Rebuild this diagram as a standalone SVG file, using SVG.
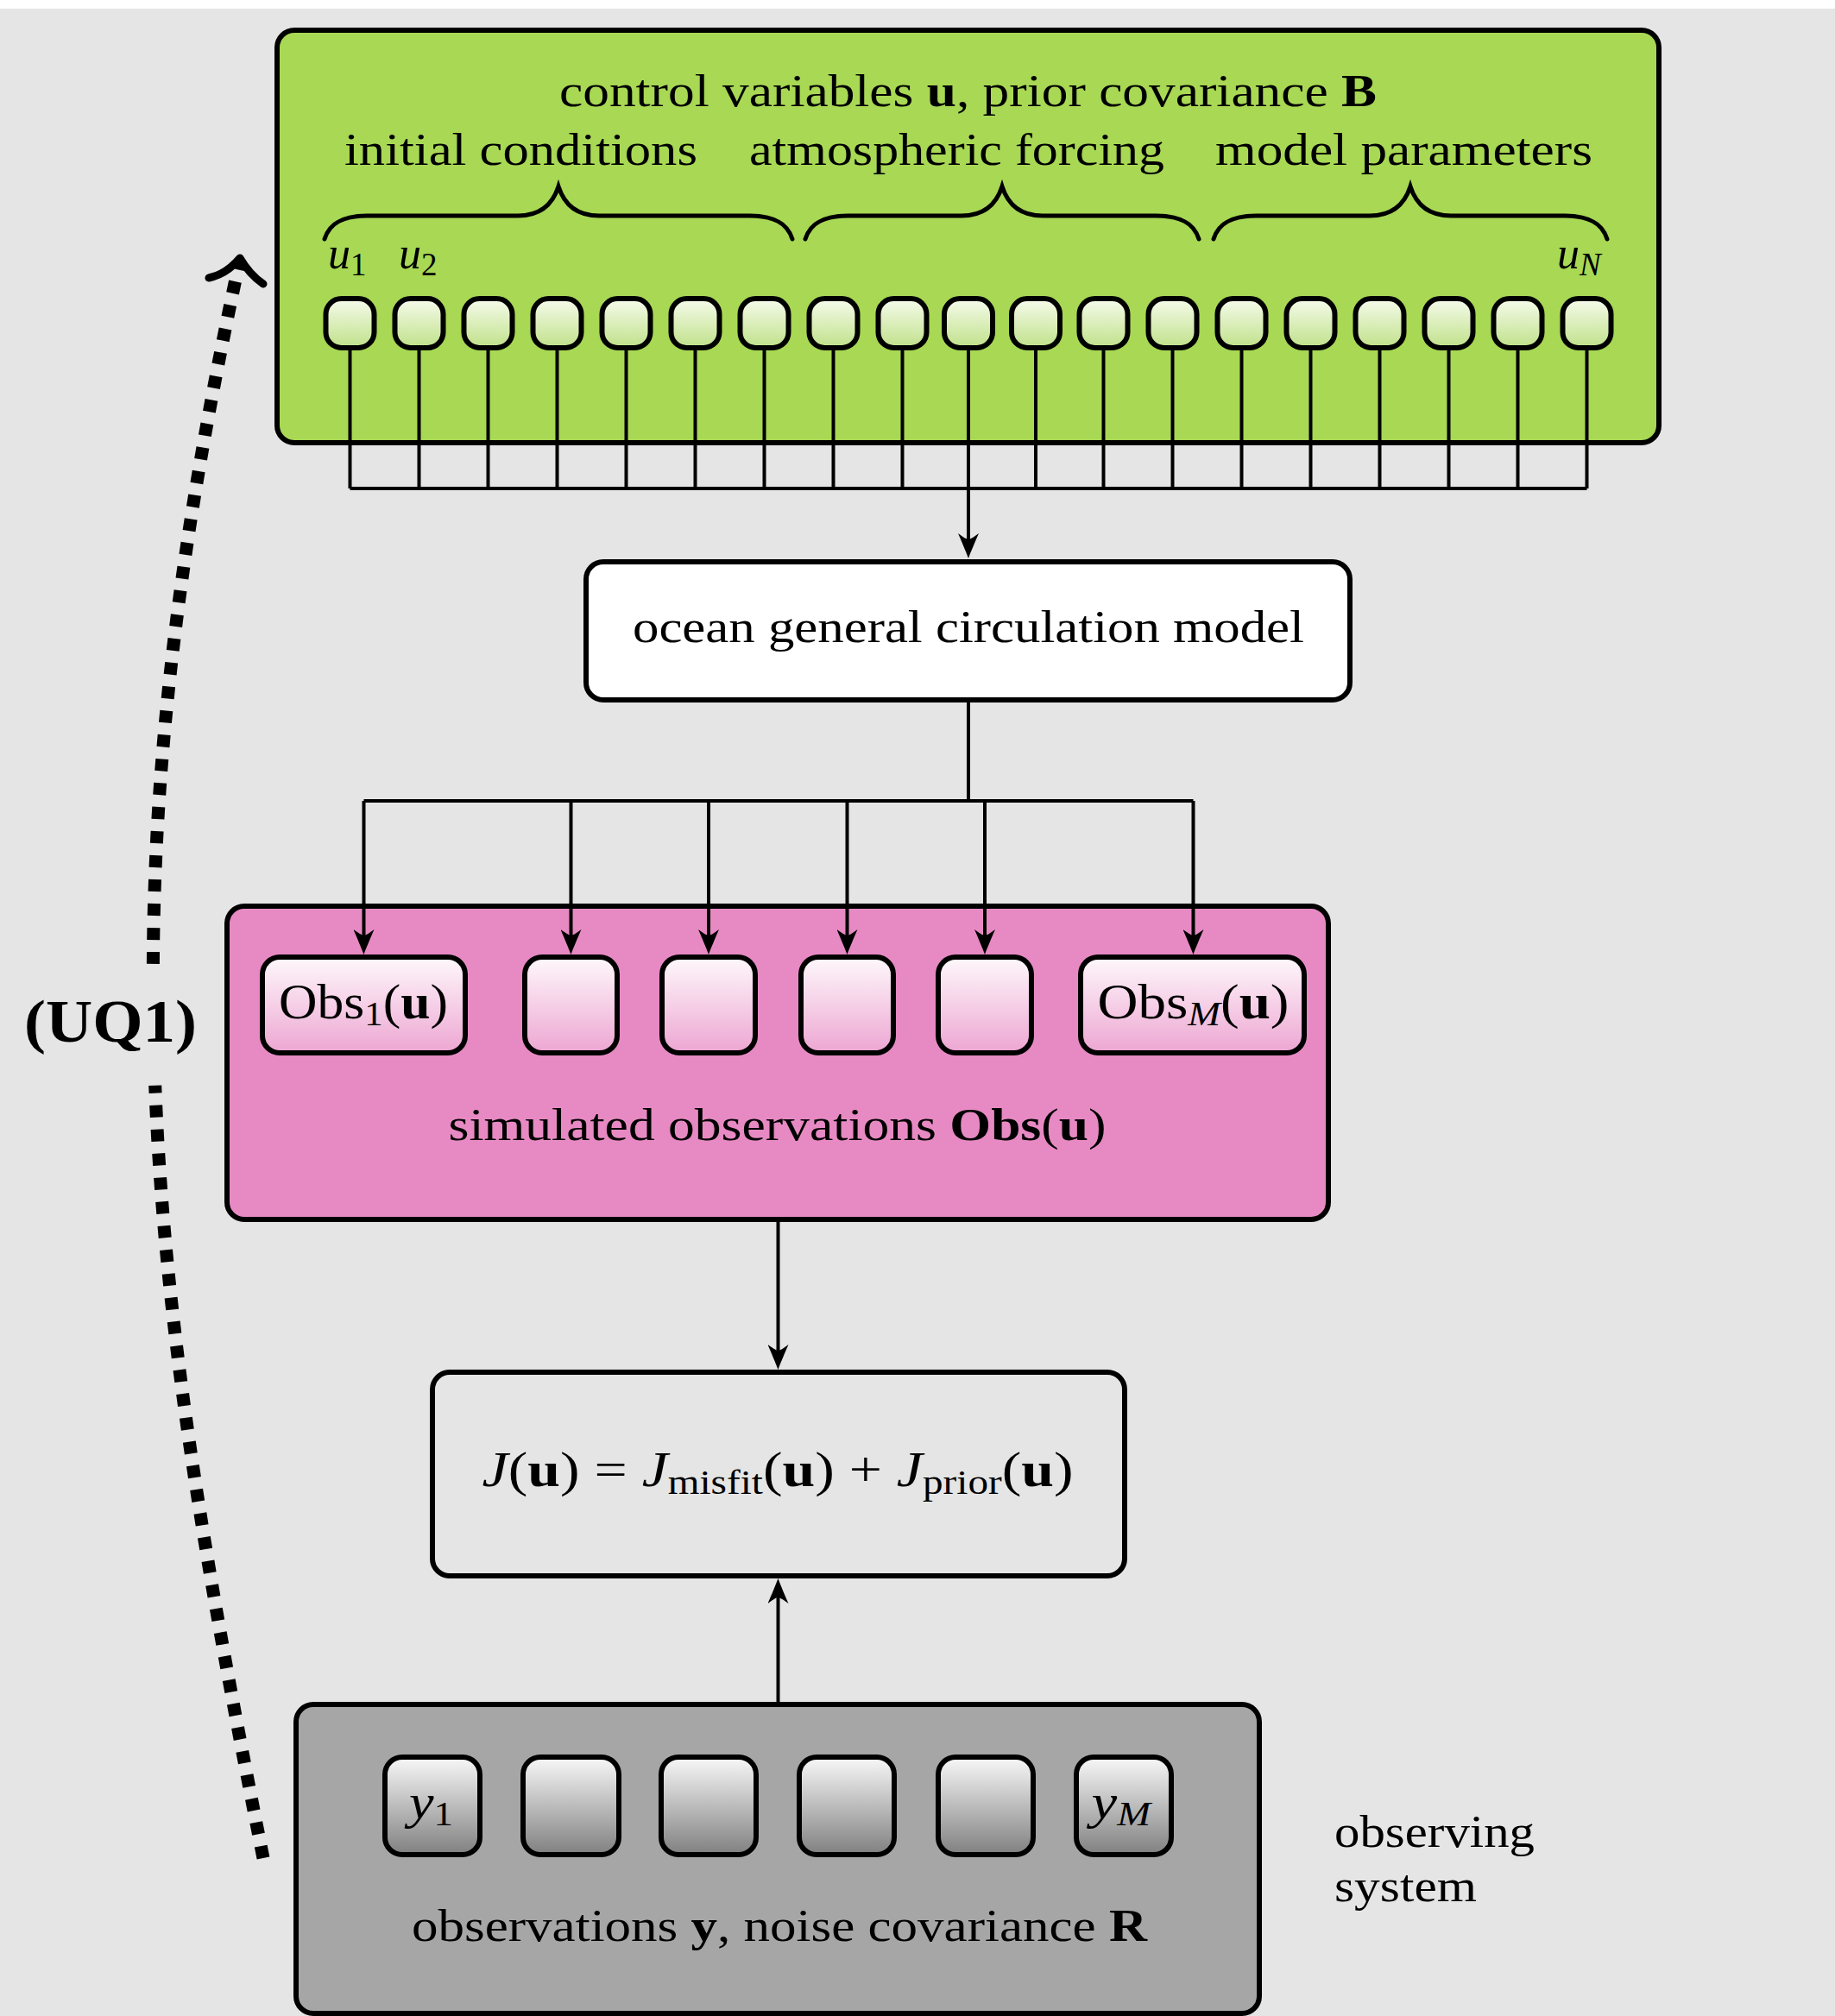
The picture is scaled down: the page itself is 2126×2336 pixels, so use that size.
<svg xmlns="http://www.w3.org/2000/svg" width="2126" height="2336" viewBox="0 0 2126 2336">
<defs>
<linearGradient id="gGreen" x1="0" y1="0" x2="0" y2="1"><stop offset="0" stop-color="#f6fbec"/><stop offset="1" stop-color="#c0e18a"/></linearGradient>
<linearGradient id="gPink" x1="0" y1="0" x2="0" y2="1"><stop offset="0" stop-color="#fef8fb"/><stop offset="1" stop-color="#eda6d2"/></linearGradient>
<linearGradient id="gGray" x1="0" y1="0" x2="0" y2="1"><stop offset="0" stop-color="#f8f8f8"/><stop offset="1" stop-color="#808080"/></linearGradient>
<marker id="arr" viewBox="0 -12 30 24" refX="7" refY="0" markerWidth="30" markerHeight="24" markerUnits="userSpaceOnUse" orient="auto">
<path d="M29,0 C21,-3 9,-8 0,-12 C5,-5 7,-2 7,0 C7,2 5,5 0,12 C9,8 21,3 29,0 Z" fill="#000"/>
</marker>
<style>
.box{stroke:#000;stroke-width:6}
.node{stroke:#000;stroke-width:6}
.ln{stroke:#000;stroke-width:4;fill:none}
.t{font-family:"Liberation Serif","Times New Roman",serif;font-size:52px;fill:#000}
.m{font-family:"Liberation Serif","Times New Roman",serif;font-size:56px;fill:#000}
.it{font-style:italic}
.bf{font-weight:bold}
.brace{stroke:#000;stroke-width:5;fill:none;stroke-linecap:round}
</style>
</defs>
<rect x="0" y="0" width="2126" height="2336" fill="#ffffff"/>
<rect x="0" y="10" width="2126" height="2326" fill="#e5e5e5"/>

<g id="control-box">
<rect class="box" x="321" y="35" width="1601" height="478" rx="20" fill="#a8d854"/>
<text class="t" x="648" y="123" textLength="947" lengthAdjust="spacingAndGlyphs">control variables <tspan class="bf">u</tspan>, prior covariance <tspan class="bf">B</tspan></text>
<text class="t" x="399" y="191" textLength="409" lengthAdjust="spacingAndGlyphs">initial conditions</text>
<text class="t" x="868" y="191" textLength="481" lengthAdjust="spacingAndGlyphs">atmospheric forcing</text>
<text class="t" x="1408" y="191" textLength="437" lengthAdjust="spacingAndGlyphs">model parameters</text>
<path class="brace" d="M376,277 C382,258 398,250 425,250 L600,250 C625,250 640,238 647,216 C654,238 669,250 694,250 L869,250 C896,250 912,258 918,277"/>
<path class="brace" d="M933,277 C939,258 955,250 982,250 L1114,250 C1139,250 1154,238 1161,216 C1168,238 1183,250 1208,250 L1340,250 C1367,250 1383,258 1389,277"/>
<path class="brace" d="M1406,277 C1412,258 1428,250 1455,250 L1587,250 C1612,250 1627,238 1634,216 C1641,238 1656,250 1681,250 L1813,250 C1840,250 1856,258 1862,277"/>
<text class="t it" x="380" y="311">u<tspan dy="8" font-size="37" font-style="normal">1</tspan></text>
<text class="t it" x="462" y="311">u<tspan dy="8" font-size="37" font-style="normal">2</tspan></text>
<text class="t it" x="1804" y="311">u<tspan dy="8" font-size="37">N</tspan></text>
</g>

<g id="u-nodes">
<g id="u1"><rect class="node" x="377.5" y="346" width="56" height="57" rx="18" fill="url(#gGreen)"/></g>
<g id="u2"><rect class="node" x="457.5" y="346" width="56" height="57" rx="18" fill="url(#gGreen)"/></g>
<g id="u3"><rect class="node" x="537.5" y="346" width="56" height="57" rx="18" fill="url(#gGreen)"/></g>
<g id="u4"><rect class="node" x="617.5" y="346" width="56" height="57" rx="18" fill="url(#gGreen)"/></g>
<g id="u5"><rect class="node" x="697.5" y="346" width="56" height="57" rx="18" fill="url(#gGreen)"/></g>
<g id="u6"><rect class="node" x="777.5" y="346" width="56" height="57" rx="18" fill="url(#gGreen)"/></g>
<g id="u7"><rect class="node" x="857.5" y="346" width="56" height="57" rx="18" fill="url(#gGreen)"/></g>
<g id="u8"><rect class="node" x="937.5" y="346" width="56" height="57" rx="18" fill="url(#gGreen)"/></g>
<g id="u9"><rect class="node" x="1017.5" y="346" width="56" height="57" rx="18" fill="url(#gGreen)"/></g>
<g id="u10"><rect class="node" x="1094" y="346" width="56" height="57" rx="18" fill="url(#gGreen)"/></g>
<g id="u11"><rect class="node" x="1172" y="346" width="56" height="57" rx="18" fill="url(#gGreen)"/></g>
<g id="u12"><rect class="node" x="1250.5" y="346" width="56" height="57" rx="18" fill="url(#gGreen)"/></g>
<g id="u13"><rect class="node" x="1330.5" y="346" width="56" height="57" rx="18" fill="url(#gGreen)"/></g>
<g id="u14"><rect class="node" x="1410.5" y="346" width="56" height="57" rx="18" fill="url(#gGreen)"/></g>
<g id="u15"><rect class="node" x="1490.5" y="346" width="56" height="57" rx="18" fill="url(#gGreen)"/></g>
<g id="u16"><rect class="node" x="1570.5" y="346" width="56" height="57" rx="18" fill="url(#gGreen)"/></g>
<g id="u17"><rect class="node" x="1650.5" y="346" width="56" height="57" rx="18" fill="url(#gGreen)"/></g>
<g id="u18"><rect class="node" x="1730.5" y="346" width="56" height="57" rx="18" fill="url(#gGreen)"/></g>
<g id="u19"><rect class="node" x="1810.5" y="346" width="56" height="57" rx="18" fill="url(#gGreen)"/></g>
</g>

<g id="ocean-model">
<rect class="box" x="679" y="651" width="885" height="160" rx="20" fill="#ffffff"/>
<text class="t" x="1122" y="744" text-anchor="middle" textLength="778" lengthAdjust="spacingAndGlyphs">ocean general circulation model</text>
</g>

<g id="simulated-obs">
<rect class="box" x="263" y="1050" width="1276" height="363" rx="20" fill="#e78ac3"/>
<text class="t" x="519.5" y="1321" textLength="762" lengthAdjust="spacingAndGlyphs">simulated observations <tspan class="bf">Obs</tspan>(<tspan class="bf">u</tspan>)</text>
</g>
<g id="obs1"><rect class="node" x="304" y="1109" width="235" height="111" rx="20" fill="url(#gPink)"/>
<text class="m" x="323" y="1180" textLength="196" lengthAdjust="spacingAndGlyphs">Obs<tspan dy="8" font-size="39">1</tspan><tspan dy="-8">(</tspan><tspan class="bf">u</tspan>)</text></g>
<g id="obs2"><rect class="node" x="608" y="1109" width="107" height="111" rx="20" fill="url(#gPink)"/></g>
<g id="obs3"><rect class="node" x="767" y="1109" width="108" height="111" rx="20" fill="url(#gPink)"/></g>
<g id="obs4"><rect class="node" x="928" y="1109" width="107" height="111" rx="20" fill="url(#gPink)"/></g>
<g id="obs5"><rect class="node" x="1087" y="1109" width="108" height="111" rx="20" fill="url(#gPink)"/></g>
<g id="obsM"><rect class="node" x="1252" y="1109" width="259" height="111" rx="20" fill="url(#gPink)"/>
<text class="m" x="1271.5" y="1180" textLength="222" lengthAdjust="spacingAndGlyphs">Obs<tspan dy="8" font-size="39" class="it">M</tspan><tspan dy="-8">(</tspan><tspan class="bf">u</tspan>)</text></g>

<g id="cost-function">
<rect class="box" x="501" y="1590" width="802" height="236" rx="20" fill="none"/>
<text class="m" x="558.6" y="1722" textLength="685" lengthAdjust="spacingAndGlyphs"><tspan class="it">J</tspan>(<tspan class="bf">u</tspan>) = <tspan class="it">J</tspan><tspan dy="9" font-size="39">misfit</tspan><tspan dy="-9">(</tspan><tspan class="bf">u</tspan>) + <tspan class="it">J</tspan><tspan dy="9" font-size="39">prior</tspan><tspan dy="-9">(</tspan><tspan class="bf">u</tspan>)</text>
</g>

<g id="observations">
<rect class="box" x="343" y="1975" width="1116" height="358" rx="20" fill="#a6a6a6"/>
<text class="t" x="477" y="2249" textLength="852" lengthAdjust="spacingAndGlyphs">observations <tspan class="bf">y</tspan>, noise covariance <tspan class="bf">R</tspan></text>
</g>
<g id="y1"><rect class="node" x="446" y="2036" width="110" height="113" rx="20" fill="url(#gGray)"/>
<text class="m it" x="474" y="2107" textLength="51" lengthAdjust="spacingAndGlyphs">y<tspan dy="8" font-size="39" font-style="normal">1</tspan></text></g>
<g id="y2"><rect class="node" x="606" y="2036" width="111" height="113" rx="20" fill="url(#gGray)"/></g>
<g id="y3"><rect class="node" x="766" y="2036" width="110" height="113" rx="20" fill="url(#gGray)"/></g>
<g id="y4"><rect class="node" x="926" y="2036" width="110" height="113" rx="20" fill="url(#gGray)"/></g>
<g id="y5"><rect class="node" x="1087" y="2036" width="110" height="113" rx="20" fill="url(#gGray)"/></g>
<g id="yM"><rect class="node" x="1247" y="2036" width="110" height="113" rx="20" fill="url(#gGray)"/>
<text class="m it" x="1264.5" y="2107" textLength="68.5" lengthAdjust="spacingAndGlyphs">y<tspan dy="8" font-size="39">M</tspan></text></g>

<g id="observing-system-label">
<text class="t" x="1546" y="2140" textLength="232" lengthAdjust="spacingAndGlyphs">observing</text>
<text class="t" x="1546" y="2203" textLength="165" lengthAdjust="spacingAndGlyphs">system</text>
</g>

<g id="connectors">
<path class="ln" d="M405.5,406 V566 M485.5,406 V566 M565.5,406 V566 M645.5,406 V566 M725.5,406 V566 M805.5,406 V566 M885.5,406 V566 M965.5,406 V566 M1045.5,406 V566 M1122,406 V566 M1200,406 V566 M1278.5,406 V566 M1358.5,406 V566 M1438.5,406 V566 M1518.5,406 V566 M1598.5,406 V566 M1678.5,406 V566 M1758.5,406 V566 M1838.5,406 V566 M405.5,566 H1838.5"/>
<path class="ln" d="M1122,566 V625" marker-end="url(#arr)"/>
<path class="ln" d="M1122,814 V928 M421.5,928 H1382.5"/>
<path class="ln" d="M421.5,928 V1084" marker-end="url(#arr)"/>
<path class="ln" d="M661.5,928 V1084" marker-end="url(#arr)"/>
<path class="ln" d="M821,928 V1084" marker-end="url(#arr)"/>
<path class="ln" d="M981.5,928 V1084" marker-end="url(#arr)"/>
<path class="ln" d="M1141,928 V1084" marker-end="url(#arr)"/>
<path class="ln" d="M1382.5,928 V1084" marker-end="url(#arr)"/>
<path class="ln" d="M901.5,1416 V1565" marker-end="url(#arr)"/>
<path class="ln" d="M901.5,1972 V1851" marker-end="url(#arr)"/>
<g id="uq1">
<path d="M305,2153 C235.3,1804.3 190.3,1529.6 179.7,1257.7" fill="none" stroke="#000" stroke-width="15" stroke-dasharray="14 14"/>
<path d="M177.4,1116.9 C178.9,869.4 210,614.1 277,305" fill="none" stroke="#000" stroke-width="15" stroke-dasharray="14 14"/>
<path d="M242,322 Q262,318 278,299 Q289,318 305,329" fill="none" stroke="#000" stroke-width="9" stroke-linecap="round" stroke-linejoin="round"/>
<text x="28" y="1207" font-family="Liberation Serif, serif" font-size="70" font-weight="bold" textLength="200" lengthAdjust="spacingAndGlyphs">(UQ1)</text>
</g>
</g>
</svg>
